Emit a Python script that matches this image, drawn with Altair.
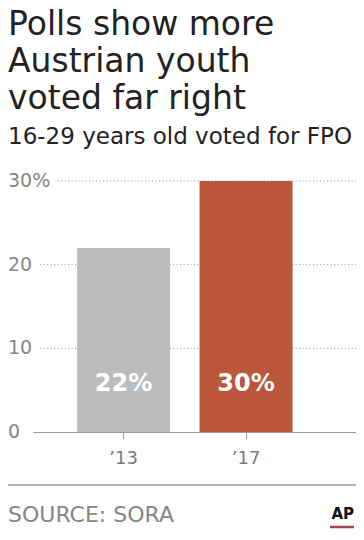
import altair as alt
import pandas as pd

# ---- data ----
years = ["\u201913", "\u201917"]
shares = [22, 30]
bar_colors = ["#BBBCBE", "#BA563A"]
y_ticks = [0, 10, 20, 30]
y_tick_labels = ["0", "10", "20", "30%"]
grid_values = [10, 20, 30]

title_lines = ["Polls show more", "Austrian youth", "voted far right"]
subtitle_text = "16-29 years old voted for FPO"
source_text = "SOURCE: SORA"
credit_text = "AP"

W, H = 323, 251
FONT = "DejaVu Sans"

bars_df = pd.DataFrame({"year": years, "share": shares, "color": bar_colors})
ticks_df = pd.DataFrame({"value": y_ticks, "label": y_tick_labels})
grid_df = pd.DataFrame({"value": grid_values})
one_df = pd.DataFrame({"source": [source_text], "credit": [credit_text]})

y_scale = alt.Scale(domain=[0, 30], nice=False, zero=True)
x_scale = alt.Scale(domain=years, paddingInner=0.241, paddingOuter=0.439, align=0.41)

grid = alt.Chart(grid_df).mark_rule(
    color="#a0a0a0", strokeDash=[1.2, 2.3], strokeWidth=1
).encode(
    y=alt.Y("value:Q", scale=y_scale, axis=None),
    x=alt.value(0),
    x2=alt.value(W),
)

halo = alt.Chart(ticks_df).mark_text(
    align="left", baseline="middle", font=FONT, fontSize=19,
    color="white", stroke="white", strokeWidth=14, strokeJoin="round"
).encode(
    y=alt.Y("value:Q", scale=y_scale, axis=None),
    x=alt.value(-25),
    text="label:N",
)

ylabels = alt.Chart(ticks_df).mark_text(
    align="left", baseline="middle", font=FONT, fontSize=19, color="#858585"
).encode(
    y=alt.Y("value:Q", scale=y_scale, axis=None),
    x=alt.value(-25),
    text="label:N",
)

bars = alt.Chart(bars_df).mark_bar().encode(
    x=alt.X(
        "year:N", scale=x_scale, sort=years,
        axis=alt.Axis(
            title=None, labelFontSize=18, labelFont=FONT, labelColor="#7a7a7a",
            domainColor="#9a9a9a", tickColor="#9a9a9a", tickSize=7,
            labelPadding=10, labelAngle=0, grid=False,
        ),
    ),
    y=alt.Y("share:Q", scale=y_scale, axis=None),
    color=alt.Color("color:N", scale=None, legend=None),
)

bar_labels = alt.Chart(bars_df).transform_calculate(
    label="datum.share + '%'"
).mark_text(
    font=FONT, fontSize=24, fontWeight="bold", color="white",
    baseline="middle", dy=-48
).encode(
    x=alt.X("year:N", scale=x_scale, sort=years),
    y=alt.datum(0),
    text="label:N",
)

footer_rule = alt.Chart(one_df).mark_rule(color="#9a9a9a", strokeWidth=1.5).encode(
    x=alt.value(-25), x2=alt.value(W), y=alt.value(304)
)

source_txt = alt.Chart(one_df).mark_text(
    align="left", baseline="alphabetic", font=FONT, fontSize=22, color="#858585"
).encode(x=alt.value(-25), y=alt.value(341), text="source:N")

ap_txt = alt.Chart(one_df).mark_text(
    align="right", baseline="alphabetic", font=FONT, fontSize=15,
    fontWeight="bold", color="#111111"
).encode(x=alt.value(W - 2), y=alt.value(338), text="credit:N")

ap_rule = alt.Chart(one_df).mark_rule(color="#A8424F", strokeWidth=2.5).encode(
    x=alt.value(W - 26), x2=alt.value(W - 2), y=alt.value(346)
)

chart = alt.layer(
    grid, halo, ylabels, bars, bar_labels, footer_rule, source_txt, ap_txt, ap_rule
).properties(
    width=W,
    height=H,
    title=alt.TitleParams(
        text=title_lines, subtitle=subtitle_text, anchor="start", frame="group",
        dx=-25, offset=23, font=FONT, fontSize=33, fontWeight="normal",
        lineHeight=37, color="#222222", subtitleFont=FONT, subtitleFontSize=23,
        subtitleColor="#222222", subtitlePadding=10,
    ),
    padding={"left": 25, "top": 173, "right": 0, "bottom": 100},
    autosize=alt.AutoSizeParams(type="none"),
).configure_view(stroke=None)

chart.save("out.html", embed_options={"renderer": "svg", "actions": False})
